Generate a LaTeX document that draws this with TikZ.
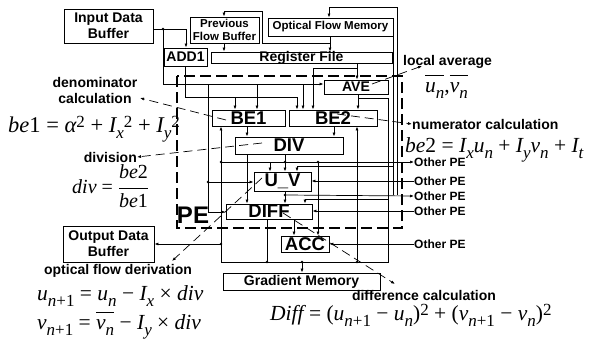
\documentclass[tikz,border=0pt]{standalone}
\usepackage{fontspec}
\setmainfont{Liberation Sans}
\newfontfamily\tnr{Liberation Serif}
\usetikzlibrary{arrows.meta}
\newcommand\lo[1]{\raisebox{-0.28em}{\fontsize{17}{17}\selectfont #1}}
\newcommand\hi[1]{\raisebox{0.22em}{\fontsize{17}{17}\selectfont\upshape #1}}
\newcommand\fml{\tnr\fontsize{21.5}{24}\selectfont\itshape}
\newcommand\fmlb{\tnr\fontsize{22.5}{25}\selectfont\itshape}
\newcommand\fmlc{\tnr\fontsize{20}{23}\selectfont\itshape}
\newcommand\ovl[1]{$\overline{\hbox{\vphantom{b}#1}}$}
\begin{document}
\begin{tikzpicture}[x=1pt,y=-1pt,
 box/.style={draw, line width=0.8pt, inner sep=0pt},
 lbl/.style={font=\bfseries\fontsize{14}{16}\selectfont, inner sep=0pt},
 sml/.style={font=\bfseries\fontsize{11.5}{13}\selectfont, inner sep=0pt, align=center},
 big/.style={font=\bfseries\fontsize{18.5}{20}\selectfont, inner sep=0pt},
 wire/.style={line width=0.7pt},
 arr/.style={wire, -{Latex[length=4pt,width=3pt]}},
 dot/.style={circle, fill, inner sep=0pt, minimum size=2.6pt},
 ptr/.style={line width=0.7pt, dash pattern=on 9pt off 5pt, -{Latex[length=4pt,width=3pt]}},
 pe/.style={line width=1.2pt, dash pattern=on 11pt off 5pt},
 fm/.style={inner sep=0pt, anchor=base west, font=\fml},
 ope/.style={inner sep=0pt, anchor=west, font=\bfseries\fontsize{12}{14}\selectfont}]
\useasboundingbox (0,0) rectangle (590,340);

% boxes
\node[box, minimum width=89, minimum height=34, label={[lbl,align=center]center:Input Data\\Buffer}] (idb) at (108.5,26) {};
\node[box, minimum width=69, minimum height=26, label={[sml]center:Previous\\Flow Buffer}] (pfb) at (224.5,30) {};
\node[box, minimum width=125, minimum height=18, label={[sml]center:Optical Flow Memory}] (ofm) at (330.5,27) {};
\node[box, minimum width=43, minimum height=18, label={[lbl]center:ADD1}] (add1) at (185.5,57) {};
\node[box, minimum width=181, minimum height=11, label={[lbl]center:Register File}] (rf) at (301.5,57.5) {};
\node[box, minimum width=64, minimum height=14, label={[lbl]center:AVE}] (ave) at (356,87) {};
\node[box, minimum width=73, minimum height=16, label={[big]center:BE1}] (be1) at (248.5,118) {};
\node[box, minimum width=88, minimum height=16, label={[big]center:BE2}] (be2) at (333,118) {};
\node[box, minimum width=108, minimum height=17, label={[big]center:DIV}] (div) at (289,145.5) {};
\node[box, minimum width=57, minimum height=19, label={[big]center:U\_V}] (uv) at (282.5,181.5) {};
\node[box, minimum width=86, minimum height=15, label={[big]center:DIFF}] (diff) at (269,211.5) {};
\node[box, minimum width=48, minimum height=16, label={[big]center:ACC}] (acc) at (305,244) {};
\node[box, minimum width=157, minimum height=17, label={[lbl]center:Gradient Memory}] (gm) at (301.5,281.5) {};
\node[box, minimum width=91, minimum height=36, label={[lbl,align=center]center:Output Data\\Buffer}] (odb) at (108.5,244) {};

% PE region
\draw[pe] (177,76) rectangle (402,228);
\node[inner sep=0pt, font=\bfseries\fontsize{24}{24}\selectfont] (pe) at (193,215) {PE};

% Other PE
\node[ope] (o1) at (414,162) {Other PE};
\node[ope] (o2) at (414,181) {Other PE};
\node[ope] (o3) at (414,196) {Other PE};
\node[ope] (o4) at (414,211) {Other PE};
\node[ope] (o5) at (414,244) {Other PE};

% wires top
\draw[arr] (idb.east |- 0,29) -- (186,29) -- (186,0 |- add1.north);
\node[dot] at (163,29) {};
\draw[arr] (163,29) -- (163,84) -- (ave.west |- 0,84);
\draw[arr] (208,84) -- (208,212) -- (diff.west |- 0,212);
\node[dot] at (208,182) {};
\draw[arr] (208,182) -- (uv.west |- 0,182);
\draw[arr] (257,84) -- (257,0 |- be1.north);
\draw[arr] (303,84) -- (303,0 |- be2.north);
\draw[arr] (185,0 |- add1.south) -- (185,97) -- (297,97) -- (297,0 |- be2.north);
\draw[arr] (235,97) -- (235,0 |- be1.north);
\draw[arr] (357,0 |- rf.south) -- (357,0 |- ave.north);
\draw[arr] (357,68) -- (313,68) -- (313,0 |- be2.north);
\draw[arr] (224,0 |- pfb.south) -- (224,0 |- rf.north);
\draw[arr] (330,0 |- ofm.south) -- (330,0 |- rf.north);
\draw[arr] (330,43) -- (262,43) -- (262,11) -- (224,11) -- (224,0 |- pfb.north);
\draw[arr] (397,195) -- (397,7) -- (329,7) -- (329,0 |- ofm.north);
\draw[wire] (393,0 |- ofm.south) -- (393,195);
\draw[arr] (393,166) -- (297,166) -- (297,0 |- uv.north);

% AVE out and frame
\draw[arr] (358,0 |- ave.south) -- (358,0 |- be2.north);
\draw[wire] (358,98) -- (388,98) -- (388,262) -- (221,262);
\draw[arr] (221,262) -- (221,0 |- be1.south);
\draw[arr] (357,262) -- (357,0 |- be2.south);
\draw[arr] (302,262) -- (302,0 |- gm.north);
\draw[arr] (221,244) -- (odb.east |- 0,244);
\draw[wire] (267,0 |- diff.south) -- (267,262);
\draw[arr] (388,199) -- (305,199) -- (305,0 |- diff.north);
\foreach \p in {(267,262),(302,262),(357,262),(221,244)} \node[dot] at \p {};

% BE -> DIV, DIV out
\draw[arr] (247,0 |- be1.south) -- (247,0 |- div.north);
\draw[arr] (334,0 |- be2.south) -- (334,0 |- div.north);
\draw[arr] (285,0 |- div.south) -- (285,0 |- uv.north);
\draw[arr] (247,0 |- div.south) -- (247,0 |- diff.north);
\draw[arr] (221,162) -- (o1.west);
\draw[arr] (270,162) -- (270,0 |- uv.north);
\draw[arr] (318,162) -- (318,0 |- acc.north);
\foreach \p in {(221,162),(285,162),(318,162)} \node[dot] at \p {};

% U_V out
\draw[arr] (285,0 |- uv.south) -- (285,0 |- diff.north);
\draw[arr] (285,195) -- (o3.west);
\node[dot] at (285,195) {};
\draw[arr] (o2.west) -- (uv.east |- 0,181);
\draw[arr] (o4.west) -- (diff.east |- 0,211);
\draw[arr] (o5.west) -- (acc.east |- 0,244);
\draw[arr] (294,0 |- diff.south) -- (294,0 |- acc.north);

% annotation labels
\node[lbl, align=center] (den) at (95,90) {denominator\\calculation};
\node[lbl, anchor=east] (divl) at (137,157) {division};
\node[lbl, anchor=west] (loc) at (403,62) {local average};
\node[lbl, anchor=west] (num) at (412,124) {numerator calculation};
\node[lbl] (ofd) at (118,271) {optical flow derivation};
\node[lbl] (dfc) at (424,295) {difference calculation};

\draw[ptr] (226,120) -- (140,98);
\draw[ptr] (262,143) -- (divl.east);
\draw[ptr] (372,84) -- (422,66);
\draw[ptr] (337,114) -- (num.west);
\draw[ptr] (262,178) -- (172,261);
\draw[ptr] (283,213) -- (395,284);

% formulas
\node[fm, font=\fmlb] (f1) at (8,132) {be{\upshape 1 = }α\hi{2}{\upshape\ + }I\lo{x}\hi{2}{\upshape\ + }I\lo{y}\hi{2}};
\node[fm, font=\fmlc] (f2) at (72,193) {div{\upshape\ = }${\displaystyle\frac{\hbox{be\upshape 2}}{\hbox{be\upshape 1}}}$};
\node[fm] (f3) at (405,152) {be{\upshape 2 = }I\lo{x}u\lo{n}{\upshape\ + }I\lo{y}v\lo{n}{\upshape\ + }I\lo{t}};
\node[fm] (f4) at (425,92) {\ovl{u\lo{n}}{\upshape ,}\ovl{v\lo{n}}};
\node[fm] (f5) at (37,300) {u\lo{n\upshape +1}{\upshape\ = }u\lo{n}{\upshape\ − }I\lo{x}{\upshape\ × }div};
\node[fm] (f6) at (37,329) {v\lo{n\upshape +1}{\upshape\ = }\ovl{v\lo{n}}{\upshape\ − }I\lo{y}{\upshape\ × }div};
\node[fm] (f7) at (270,320) {Diff{\upshape\ = (}u\lo{n\upshape +1}{\upshape\ − }u\lo{n}{\upshape )}\hi{2}{\upshape\ + (}v\lo{n\upshape +1}{\upshape\ − }v\lo{n}{\upshape )}\hi{2}};
\end{tikzpicture}
\end{document}
